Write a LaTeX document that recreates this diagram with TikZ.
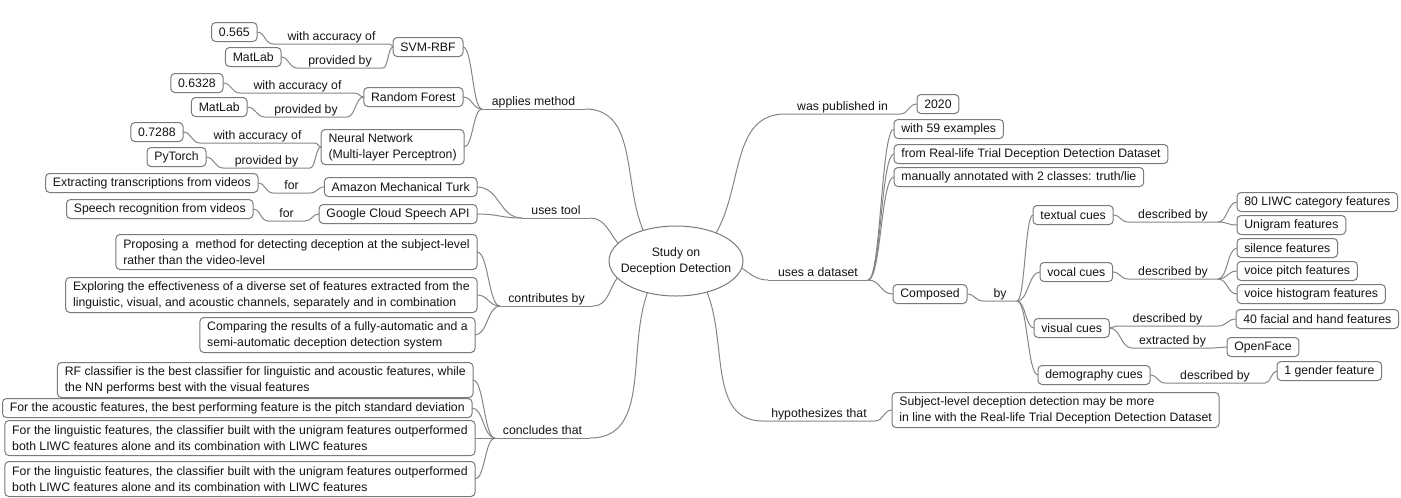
\documentclass[tikz,border=0pt]{standalone}
\usepackage{fontspec}
\setmainfont{Liberation Sans}
\usetikzlibrary{calc,shapes.geometric}
\definecolor{edge}{HTML}{858585}
\definecolor{frame}{HTML}{7A7A7A}
\definecolor{ink}{HTML}{141414}
\begin{document}
\begin{tikzpicture}[x=0.75pt,y=-0.75pt,
  every node/.style={font=\fontsize{9.2}{12}\selectfont, text=ink, outer sep=0pt},
  box/.style={draw=frame, line width=0.75pt, rounded corners=3pt, fill=white,
    minimum height=14.25pt, inner xsep=5.5pt, inner ysep=2pt, align=left},
  tall/.style={minimum height=26.25pt},
  lbl/.style={anchor=south, inner xsep=0pt, inner ysep=1pt, text height=6.5pt,
    text depth=2pt, minimum width=#1*0.75pt},
  link/.style={draw=edge, line width=0.75pt},
  sc/.style={to path={let \p1=(\tikztostart), \p2=(\tikztotarget) in
    .. controls ({0.5*(\x1+\x2)},\y1) and ({0.5*(\x1+\x2)},\y2) .. (\tikztotarget)}},
]
\useasboundingbox (0,0) rectangle (1401,497);

% central topic
\node[ellipse, draw=frame, line width=0.75pt, fill=white, align=center,
  minimum width=100.5pt, minimum height=52.5pt, inner xsep=-6pt, inner ysep=0pt]
  (root) at (676,261) {Study on\\Deception Detection};

% ---- applies method ----
\node[box, anchor=east] (svm) at (463,47) {SVM-RBF};
\node[box, anchor=east] (rf) at (463,97) {Random Forest};
\node[box, tall, anchor=east] (nn) at (464,147) {Neural Network\\(Multi-layer Perceptron)};
\node[box, anchor=east] (v1) at (257,32) {0.565};
\node[box, anchor=east] (m1) at (281,57) {MatLab};
\node[box, anchor=east] (v2) at (223,83) {0.6328};
\node[box, anchor=east] (m2) at (247,107) {MatLab};
\node[box, anchor=east] (v3) at (183,132) {0.7288};
\node[box, anchor=east] (m3) at (206,157) {PyTorch};
\node[lbl=117] (a1) at (331.5,44) {with accuracy of};
\node[lbl=86] (p1) at (340,68) {provided by};
\node[lbl=115] (a2) at (297.5,93) {with accuracy of};
\node[lbl=82] (p2) at (306,117) {provided by};
\node[lbl=115] (a3) at (257.5,143) {with accuracy of};
\node[lbl=87] (p3) at (266.5,168) {provided by};
\node[lbl=103] (am) at (533.5,109) {applies method};

% ---- uses tool ----
\node[box, anchor=east] (amt) at (477,187) {Amazon Mechanical Turk};
\node[box, anchor=east] (gcs) at (477,214) {Google Cloud Speech API};
\node[box, anchor=east] (ext) at (258,183) {Extracting transcriptions from videos};
\node[box, anchor=east] (spr) at (253,209) {Speech recognition from videos};
\node[lbl=37] (f1) at (291.5,193) {for};
\node[lbl=37] (f2) at (286.5,221) {for};
\node[lbl=68] (ut) at (556,218) {uses tool};

% ---- contributes by ----
\node[box, tall, anchor=east] (c1) at (477,252)
  {Proposing a~ method for detecting deception at the subject-level\\rather than the video-level};
\node[box, tall, anchor=east] (c2) at (477,295)
  {Exploring the effectiveness of a diverse set of features extracted from the\\linguistic, visual, and acoustic channels, separately and in combination};
\node[box, tall, anchor=east] (c3) at (475,335)
  {Comparing the results of a fully-automatic and a\\semi-automatic deception detection system};
\node[lbl=93] (cb) at (546.5,306) {contributes by};

% ---- concludes that ----
\node[box, tall, anchor=east] (k1) at (473,380)
  {RF classifier is the best classifier for linguistic and acoustic features, while\\the NN performs best with the visual features};
\node[box, anchor=east] (k2) at (472,408)
  {For the acoustic features, the best performing feature is the pitch standard deviation};
\node[box, tall, anchor=east] (k3) at (475,438)
  {For the linguistic features, the classifier built with the unigram features outperformed\\both LIWC features alone and its combination with LIWC features};
\node[box, tall, anchor=east] (k4) at (475,479)
  {For the linguistic features, the classifier built with the unigram features outperformed\\both LIWC features alone and its combination with LIWC features};
\node[lbl=95] (ct) at (542.5,438) {concludes that};

% ---- was published in ----
\node[lbl=115] (wp) at (842.5,114) {was published in};
\node[box, anchor=west] (yr) at (917,104) {2020};

% ---- uses a dataset ----
\node[lbl=100] (ud) at (818,280) {uses a dataset};
\node[box, anchor=west] (e59) at (894,129) {with 59 examples};
\node[box, anchor=west] (rl) at (894,154) {from Real-life Trial Deception Detection Dataset};
\node[box, anchor=west] (ma) at (894,177) {manually annotated with 2 classes: truth/lie};
\node[box, anchor=west] (comp) at (893,294) {Composed};
\node[lbl=34] (by) at (1000,301) {by};
\node[box, anchor=west] (tc) at (1033,215) {textual cues};
\node[box, anchor=west] (vc) at (1040,272) {vocal cues};
\node[box, anchor=west] (vis) at (1034,328) {visual cues};
\node[box, anchor=west] (dem) at (1038,375) {demography cues};
\node[lbl=90] (d1) at (1173,222) {described by};
\node[lbl=90] (d2) at (1173,279) {described by};
\node[lbl=101] (d3) at (1167.5,326) {described by};
\node[lbl=81] (x1) at (1172.5,348) {extracted by};
\node[lbl=100] (d4) at (1215,383) {described by};
\node[box, anchor=west] (liwc) at (1237,202) {80 LIWC category features};
\node[box, anchor=west] (uni) at (1237,225) {Unigram features};
\node[box, anchor=west] (sil) at (1237,248) {silence features};
\node[box, anchor=west] (vp) at (1237,271) {voice pitch features};
\node[box, anchor=west] (vh) at (1237,294) {voice histogram features};
\node[box, anchor=west] (fac) at (1236,319) {40 facial and hand features};
\node[box, anchor=west] (of) at (1227,347) {OpenFace};
\node[box, anchor=west] (gen) at (1277,371) {1 gender feature};

% ---- hypothesizes that ----
\node[lbl=112] (ht) at (819,421) {hypothesizes that};
\node[box, tall, anchor=west] (hyp) at (892,410)
  {Subject-level deception detection may be more\\in line with the Real-life Trial Deception Detection Dataset};

% ================= connectors =================
% main branches
\draw[link] (am.south east) to[out=0,in=113] (root.137);
\draw[link] (ut.south east) to[out=0,in=130] (root.163);
\draw[link] (cb.south east) to[out=0,in=235] (root.196);
\draw[link] (ct.south east) to[out=0,in=250] (root.228);
\draw[link] (root.35) to[out=60,in=180] (wp.south west);
\draw[link] (root.354) to[out=-35,in=180] (ud.south west);
\draw[link] (root.315) to[out=-68,in=180] (ht.south west);

% applies method
\draw[link] (am.south west) -- (am.south east);
\draw[link] (svm.east) to[sc] (am.south west);
\draw[link] (rf.east) to[sc] (am.south west);
\draw[link] (nn.east) to[sc] (am.south west);
\draw[link] (v1.east) to[sc] (a1.south west) -- (a1.south east) to[sc] (svm.west);
\draw[link] (m1.east) to[sc] (p1.south west) -- (p1.south east) to[sc] (svm.west);
\draw[link] (v2.east) to[sc] (a2.south west) -- (a2.south east) to[sc] (rf.west);
\draw[link] (m2.east) to[sc] (p2.south west) -- (p2.south east) to[sc] (rf.west);
\draw[link] (v3.east) to[sc] (a3.south west) -- (a3.south east) to[sc] (nn.west);
\draw[link] (m3.east) to[sc] (p3.south west) -- (p3.south east) to[sc] (nn.west);

% uses tool
\draw[link] (ut.south west) -- (ut.south east);
\draw[link] (amt.east) to[sc] (ut.south west);
\draw[link] (gcs.east) to[sc] (ut.south west);
\draw[link] (ext.east) to[sc] (f1.south west) -- (f1.south east) to[sc] (amt.west);
\draw[link] (spr.east) to[sc] (f2.south west) -- (f2.south east) to[sc] (gcs.west);

% contributes by
\draw[link] (cb.south west) -- (cb.south east);
\foreach \q in {c1,c2,c3} \draw[link] (\q.east) to[sc] (cb.south west);

% concludes that
\draw[link] (ct.south west) -- (ct.south east);
\foreach \q in {k1,k2,k3,k4} \draw[link] (\q.east) to[sc] (ct.south west);

% was published in
\draw[link] (wp.south west) -- (wp.south east) to[sc] (yr.west);

% uses a dataset
\draw[link] (ud.south west) -- (ud.south east);
\foreach \q in {e59,rl,ma,comp} \draw[link] (ud.south east) to[sc] (\q.west);
\draw[link] (comp.east) to[sc] (by.south west) -- (by.south east);
\foreach \q in {tc,vc,vis,dem} \draw[link] (by.south east) to[sc] (\q.west);
\draw[link] (tc.east) to[sc] (d1.south west) -- (d1.south east);
\foreach \q in {liwc,uni} \draw[link] (d1.south east) to[sc] (\q.west);
\draw[link] (vc.east) to[sc] (d2.south west) -- (d2.south east);
\foreach \q in {sil,vp,vh} \draw[link] (d2.south east) to[sc] (\q.west);
\draw[link] (vis.east) to[sc] (d3.south west) -- (d3.south east) to[sc] (fac.west);
\draw[link] (vis.east) to[sc] (x1.south west) -- (x1.south east) to[sc] (of.west);
\draw[link] (dem.east) to[sc] (d4.south west) -- (d4.south east) to[sc] (gen.west);

% hypothesizes that
\draw[link] (ht.south west) -- (ht.south east) to[sc] (hyp.west);
\end{tikzpicture}
\end{document}
